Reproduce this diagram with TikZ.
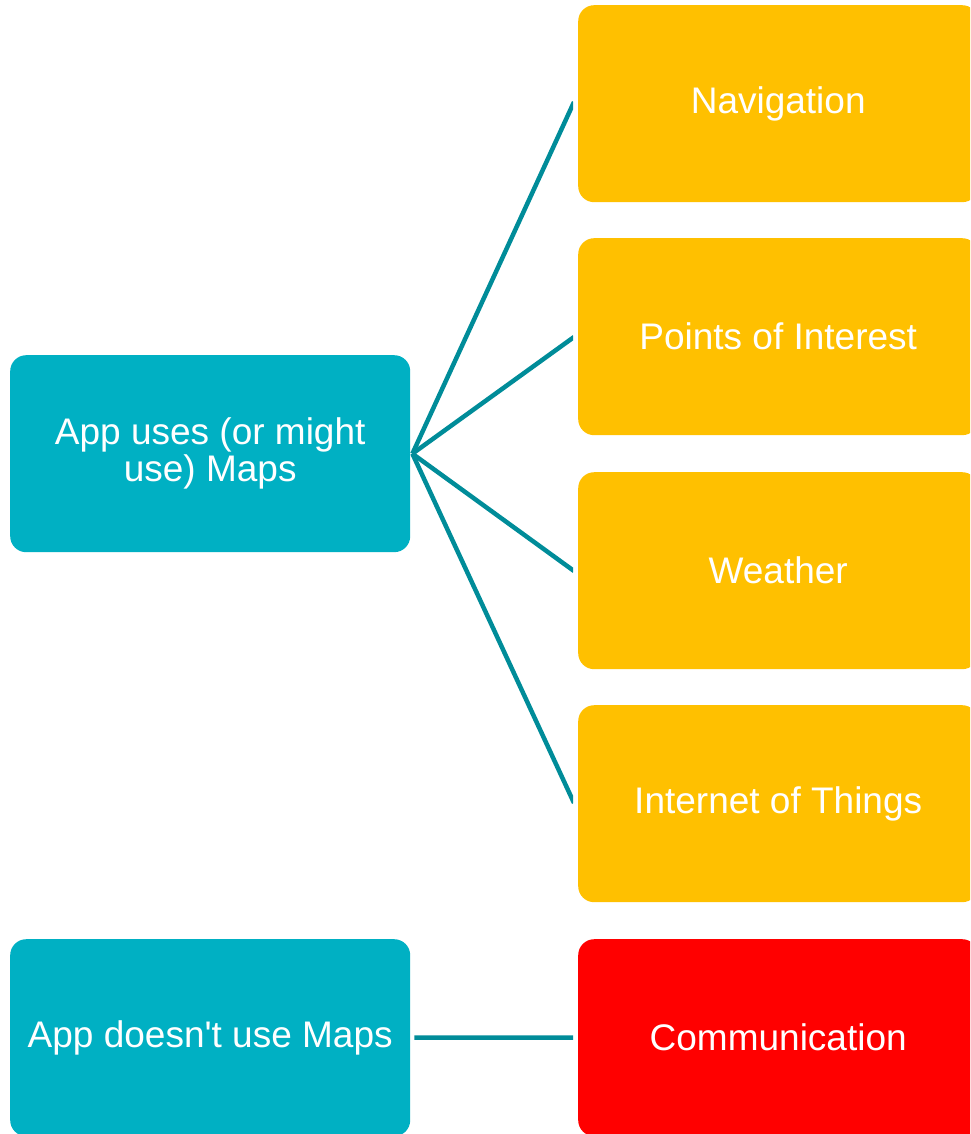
\documentclass[tikz,border=0pt]{standalone}
\usepackage{fontspec}
\setmainfont{Liberation Sans}
\definecolor{srcteal}{HTML}{00B0C3}
\definecolor{dstgold}{HTML}{FFC000}
\definecolor{dstred}{HTML}{FF0000}
\definecolor{linkteal}{HTML}{008C99}
\begin{document}
\begin{tikzpicture}[x=1pt,y=-1pt,
  card/.style={rectangle, rounded corners=16pt, minimum width=400pt, minimum height=197pt,
    inner sep=0pt, text=white, align=center, font=\fontsize{37}{37}\selectfont, anchor=north west},
  srccard/.style={card, fill=srcteal},
  goldcard/.style={card, fill=dstgold},
  redcard/.style={card, fill=dstred},
  link/.style={draw=linkteal, line width=4.5pt}]
\useasboundingbox (0,0) rectangle (970,1134);
\clip (0,0) rectangle (970,1134);

% left column
\node[srccard] (maps) at (10,355) {App uses (or might\\use) Maps};
\node[srccard] (nomaps) at (10,939) {App doesn\textquotesingle t use Maps};

% right column
\node[goldcard] (nav) at (578,5) {Navigation};
\node[goldcard] (poi) at (578,238) {Points of Interest};
\node[goldcard] (wea) at (578,472) {Weather};
\node[goldcard] (iot) at (578,705) {Internet of Things};
\node[redcard] (com) at (578,939) {Communication};

% loose ends of the connectors, just short of the right column
\coordinate (navin) at (574,102);
\coordinate (poiin) at (574,337);
\coordinate (weain) at (574,571);
\coordinate (iotin) at (574,803);
\coordinate (comin) at (574,1037.5);

\begin{scope}
  \clip (400,0) rectangle (573,1134);
  \draw[link] ([xshift=2pt]maps.east) -- (navin);
  \draw[link] ([xshift=2pt]maps.east) -- (poiin);
  \draw[link] ([xshift=2pt]maps.east) -- (weain);
  \draw[link] ([xshift=2pt]maps.east) -- (iotin);
  \draw[link] ([xshift=4pt]nomaps.east) -- (comin);
\end{scope}
\end{tikzpicture}
\end{document}
